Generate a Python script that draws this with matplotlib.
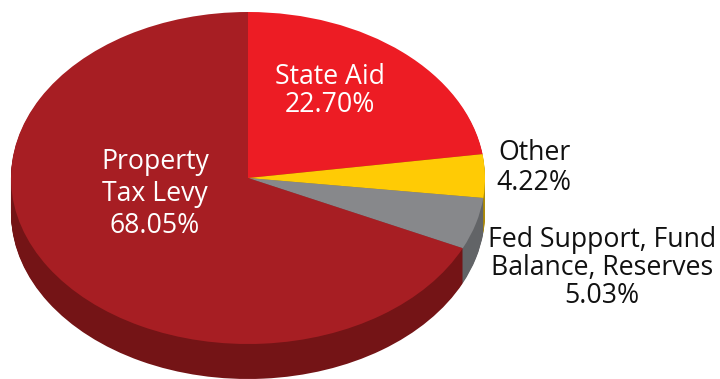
import matplotlib
matplotlib.use("Agg")
import matplotlib.pyplot as plt

labels = ["State Aid\n22.70%", "Other\n4.22%", "Fed Support, Fund\nBalance, Reserves\n5.03%", "Property\nTax Levy\n68.05%"]
values = [22.70, 4.22, 5.03, 68.05]
top_colors = ["#ed1c24", "#ffcb05", "#87888b", "#a71e23"]
side_colors = ["#8a1216", "#b08c05", "#626467", "#741416"]
label_pos = [(330, 91), (534, 168), (602, 268), (155, 194)]
label_spacing = [0.97, 1.05, 1.0, 1.2]
label_colors = ["white", "#111111", "#111111", "white"]

plt.rcParams["font.family"] = ["Open Sans", "DejaVu Sans"]
fig = plt.figure(figsize=(7.2, 3.79), dpi=100)
ax = fig.add_axes([0, 0, 1, 1])

cx, cy, rx, ry, depth = 248, 178, 237, 166, 35
for off in range(depth, 0, -1):
    ax.pie(values, radius=1, startangle=90, counterclock=False, colors=side_colors,
           center=(0, -off / ry), wedgeprops={"linewidth": 0})
ax.pie(values, radius=1, startangle=90, counterclock=False, colors=top_colors,
       center=(0, 0), wedgeprops={"linewidth": 0})

ax.set_aspect("auto")
ax.set_xlim(-cx / rx, (720 - cx) / rx)
ax.set_ylim(-(379 - cy) / ry, cy / ry)

for lab, (px, py), col, sp in zip(labels, label_pos, label_colors, label_spacing):
    ax.text((px - cx) / rx, (cy - py) / ry, lab, ha="center", va="center", color=col,
            fontsize=19.2, linespacing=sp)

fig.savefig("out.png", dpi=100)
